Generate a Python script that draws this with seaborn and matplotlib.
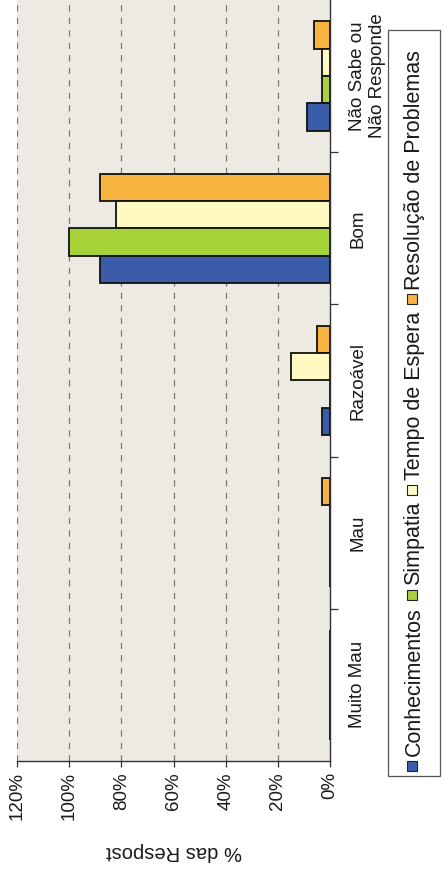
import numpy as np
import pandas as pd
import seaborn as sns
import matplotlib
matplotlib.use("Agg")
import matplotlib.pyplot as plt
from matplotlib.patches import Rectangle
from matplotlib.ticker import FixedLocator, FuncFormatter

# --- data -------------------------------------------------------------
categorias = ["Muito Mau", "Mau", "Razoável", "Bom", "Não Sabe ou\nNão Responde"]
series = ["Conhecimentos", "Simpatia", "Tempo de Espera", "Resolução de Problemas"]
conhecimentos = [0, 0, 3, 88, 9]
simpatia = [0, 0, 0, 100, 3]
tempo_espera = [0, 0, 15, 82, 3]
resolucao = [0, 3, 5, 88, 6]
ticks_pct = [0, 20, 40, 60, 80, 100, 120]
eixo_titulo = "% das Respost"

cores = {
    "Conhecimentos": "#3B5DA9",
    "Simpatia": "#A8D23A",
    "Tempo de Espera": "#FFFAC2",
    "Resolução de Problemas": "#F7B441",
}

valores = {
    "Conhecimentos": conhecimentos,
    "Simpatia": simpatia,
    "Tempo de Espera": tempo_espera,
    "Resolução de Problemas": resolucao,
}
linhas = []
for s in series:
    for c, v in zip(categorias, valores[s]):
        linhas.append({"categoria": c, "serie": s, "valor": v})
df = pd.DataFrame(linhas)

# --- style --------------------------------------------------------------
sns.set_theme(style="white")
plt.rcParams["font.family"] = ["Liberation Sans", "DejaVu Sans"]
TXT = "#1a1a1a"

W, H = 444, 872
fig = plt.figure(figsize=(W / 100, H / 100), dpi=100)
fig.patch.set_facecolor("white")

# plot area in pixel coordinates (left, top, right, bottom)
L, T, R, B = 17, 0, 330, 761
ax = fig.add_axes([L / W, (H - B) / H, (R - L) / W, (B - T) / H])
ax.set_facecolor("#EDEAE4")

# categories run bottom (Muito Mau) to top; series stack upward within a group
ordem = categorias[::-1]
sns.barplot(
    data=df, x="valor", y="categoria", hue="serie",
    order=ordem, hue_order=series[::-1], palette=cores, saturation=1,
    orient="h", width=0.72, errorbar=None, legend=False,
    edgecolor="#111111", linewidth=1.3, ax=ax, zorder=3,
)

ax.set_xlim(120, 0)
ax.set_ylim(len(categorias) - 0.5, -0.5)

# value axis
ax.xaxis.set_major_locator(FixedLocator(ticks_pct))
ax.xaxis.set_major_formatter(FuncFormatter(lambda v, p: f"{v:.0f}%"))
ax.tick_params(axis="x", which="major", direction="out", length=4, width=0.9,
               color="#333333", pad=4, labelsize=13.5, labelcolor=TXT,
               labelrotation=90, bottom=True)
for g in ticks_pct[1:]:
    ax.axvline(g, color="#7a7a7a", lw=0.9, ls=(0, (5, 5)), zorder=1)

# category axis on the right
ax.yaxis.tick_right()
ax.tick_params(axis="y", which="major", length=0, pad=14, labelsize=13.5,
               labelcolor=TXT, right=True, left=False)
for lab in ax.get_yticklabels():
    lab.set_rotation(90)
    lab.set_va("center")
    lab.set_ha("left")
    lab.set_multialignment("center")
ax.yaxis.set_minor_locator(FixedLocator(np.arange(0.5, len(categorias) - 0.5, 1.0)))
ax.tick_params(axis="y", which="minor", direction="out", length=6, width=0.9,
               color="#333333", right=True, left=False)

for side in ["top", "left"]:
    ax.spines[side].set_visible(False)
for side in ["bottom", "right"]:
    ax.spines[side].set_visible(True)
    ax.spines[side].set_color("#333333")
    ax.spines[side].set_linewidth(1.0)

ax.set_ylabel("")
ax.set_xlabel(eixo_titulo, rotation=180, fontsize=14.5, color=TXT, labelpad=16)

# --- legend (drawn reading upward, like the rotated tick labels) ---------
fig.canvas.draw()
renderer = fig.canvas.get_renderer()

def fx(px):
    return px / W

def fy(py_top):
    return (H - py_top) / H

box_l, box_r, box_t, box_b = 388, 440, 30, 776
fig.patches.append(Rectangle((fx(box_l), fy(box_b)), fx(box_r - box_l), (box_b - box_t) / H,
                             transform=fig.transFigure, fill=False,
                             edgecolor="#555555", lw=0.9))
cx = 414
sq = 10
y = box_b - 5  # current bottom (image pixels from top)
for s in series:
    fig.patches.append(Rectangle((fx(cx - sq / 2 - 2), fy(y)), fx(sq), sq / H,
                                 transform=fig.transFigure, facecolor=cores[s],
                                 edgecolor="#222222", lw=0.8))
    y -= sq + 5
    t = fig.text(fx(cx), fy(y), s, rotation=90, ha="center", va="bottom",
                 fontsize=15.5, color=TXT)
    bb = t.get_window_extent(renderer)
    y -= bb.height + 7

fig.savefig("out.png", dpi=100, facecolor="white")
